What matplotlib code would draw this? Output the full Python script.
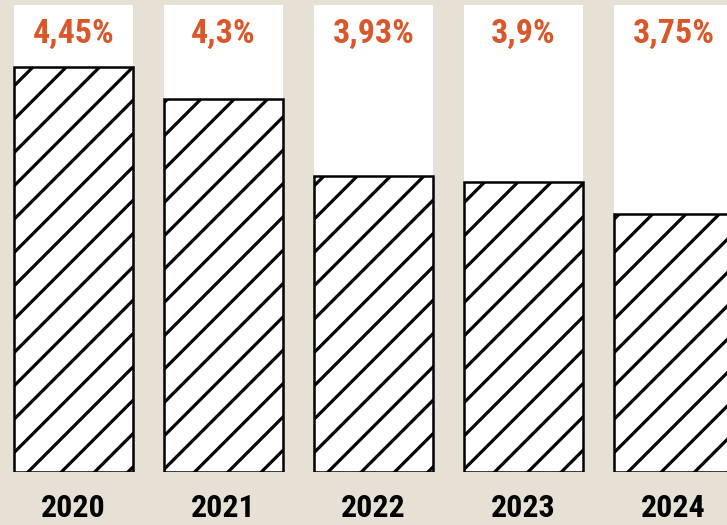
import matplotlib
matplotlib.use("Agg")
import matplotlib.pyplot as plt
from matplotlib import font_manager

years = ["2020", "2021", "2022", "2023", "2024"]
rates = [4.45, 4.30, 3.93, 3.90, 3.75]
labels = ["4,45%", "4,3%", "3,93%", "3,9%", "3,75%"]

bg = "#E6E0D5"
orange = "#D9582B"

# pick a condensed font if one is installed
names = {f.name for f in font_manager.fontManager.ttflist}
condensed = None
for cand in ["Roboto Condensed", "Open Sans Condensed", "Liberation Sans Narrow",
             "Noto Sans Display", "DejaVu Sans Condensed"]:
    if cand in names:
        condensed = cand
        break
if condensed:
    fam = [condensed, "DejaVu Sans"]
    lab_size, yr_size, stretch = 24.5, 23, "condensed"
else:
    fam = ["Roboto", "DejaVu Sans"]
    lab_size, yr_size, stretch = 21, 20, "normal"

plt.rcParams['hatch.linewidth'] = 2.3
plt.rcParams['hatch.color'] = 'black'

fig = plt.figure(figsize=(7.27, 5.25), dpi=100, facecolor=bg)
ax = fig.add_axes([0, 1 - 472 / 525, 1, (472 - 5) / 525])
ax.set_facecolor(bg)

base = 2.516
top = 4.747
x = list(range(len(years)))
w = 0.793

ax.bar(x, [top - base] * len(x), bottom=base, width=w, color="white",
       edgecolor="none", zorder=1)
ax.bar(x, [r - base for r in rates], bottom=base, width=w, color="white",
       edgecolor="black", linewidth=1.8, hatch="/", zorder=2)

for xi, lab in zip(x, labels):
    ax.text(xi, 4.608, lab, ha="center", va="center", color=orange,
            fontsize=lab_size, fontweight="bold", family=fam,
            fontstretch=stretch, zorder=3)

for xi, yr in zip(x, years):
    ax.text(xi, base - 0.170, yr, ha="center", va="center", color="black",
            fontsize=yr_size, fontweight="bold", family=fam,
            fontstretch=stretch, zorder=3, clip_on=False)

ax.set_xlim(-0.49, 4.357)
ax.set_ylim(base, top)
ax.axis("off")

fig.savefig("out.png", dpi=100, facecolor=bg)
